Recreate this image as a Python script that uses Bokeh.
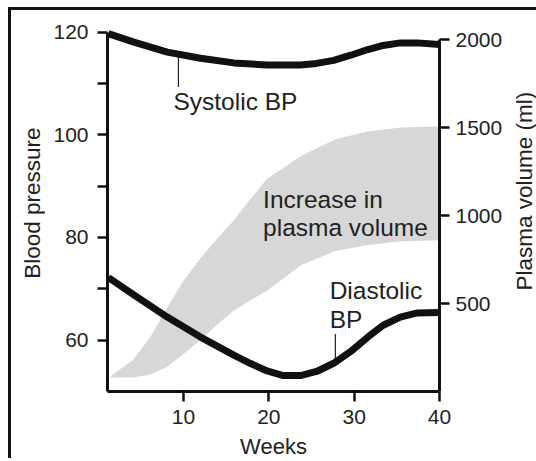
import math
from bokeh.plotting import figure
from bokeh.layouts import row
from bokeh.models import Range1d, LinearAxis, FixedTicker, Label
from bokeh.core.properties import value
from bokeh.embed import file_html
from bokeh.resources import INLINE

# ---- data ----
weeks_sys = [1.2, 4.1, 8.1, 12.0, 15.9, 19.8, 23.7, 25.6, 27.6, 29.6, 31.6, 33.4, 35.4, 37.4, 40.0]
systolic = [119.7, 118.1, 116.1, 114.9, 114.0, 113.6, 113.6, 113.9, 114.5, 115.5, 116.6, 117.4, 117.9, 117.9, 117.6]

weeks_dia = [1.2, 4.1, 8.1, 12.0, 15.9, 17.8, 19.8, 21.7, 23.7, 25.6, 27.6, 29.6, 31.6, 33.4, 35.4, 37.4, 40.0]
diastolic = [72.2, 68.9, 64.5, 60.6, 57.1, 55.5, 54.0, 53.1, 53.1, 53.9, 55.5, 57.8, 60.6, 62.9, 64.5, 65.3, 65.4]

weeks_band = [1.5, 4.1, 6.1, 8.1, 10.0, 12.0, 14.0, 15.9, 17.8, 19.8, 23.8, 27.8, 31.7, 35.5, 40.0]
plasma_upper = [88, 180, 309, 478, 630, 760, 872, 973, 1092, 1210, 1339, 1435, 1480, 1502, 1508]
plasma_lower = [78, 79, 96, 141, 214, 293, 383, 461, 518, 574, 720, 799, 833, 855, 861]

bp_ticks = [60, 70, 80, 90, 100, 110, 120]
bp_labels = {60: "60", 70: "", 80: "80", 90: "", 100: "100", 110: "", 120: "120"}
plasma_ticks = [500, 1000, 1500, 2000]
week_ticks = [10, 20, 30, 40]

FONT = "Liberation Sans"
INK = "#111111"
TXT = "#222222"
FRAME = "3px solid #111"
H = 451

# ---- main chart ----
p = figure(width=460, height=H,
           x_range=Range1d(1.1, 40), y_range=Range1d(50, 120.7),
           output_backend="svg", toolbar_location=None,
           min_border_left=62, min_border_right=65,
           min_border_top=18, min_border_bottom=66)
p.extra_y_ranges = {"plasma": Range1d(0, 2065)}
p.xgrid.visible = False
p.ygrid.visible = False
p.outline_line_color = None
p.background_fill_color = "white"
p.border_fill_color = "white"
p.styles = {"border-top": FRAME, "margin-top": "7px"}

# band: increase in plasma volume
p.varea(x=weeks_band, y1=plasma_lower, y2=plasma_upper, y_range_name="plasma",
        fill_color="#d7d7d7")

# leader lines
p.segment(x0=[9.41], y0=[115.2], x1=[9.41], y1=[109.3], line_color=TXT, line_width=1.2)
p.segment(x0=[27.8], y0=[61.2], x1=[27.8], y1=[56.0], line_color=TXT, line_width=1.2)

# curves
p.line(weeks_sys, systolic, line_color=INK, line_width=7, line_join="round", line_cap="butt")
p.line(weeks_dia, diastolic, line_color=INK, line_width=7, line_join="round", line_cap="butt")

def style_axis(ax, tick_size="21px"):
    ax.axis_line_width = 3
    ax.axis_line_color = INK
    ax.major_tick_line_width = 2.5
    ax.major_tick_line_color = INK
    ax.major_tick_out = 10
    ax.major_tick_in = 0
    ax.minor_tick_line_color = None
    ax.major_label_text_font = FONT
    ax.major_label_text_font_size = tick_size
    ax.major_label_text_color = TXT
    ax.axis_label_text_font = FONT
    ax.axis_label_text_font_size = "22px"
    ax.axis_label_text_font_style = "normal"
    ax.axis_label_text_color = TXT

xax = p.xaxis[0]
style_axis(xax)
xax.axis_label = "Weeks"
xax.ticker = FixedTicker(ticks=week_ticks)
xax.major_label_standoff = 8
xax.axis_label_standoff = 7

yax = p.yaxis[0]
style_axis(yax)
yax.ticker = FixedTicker(ticks=bp_ticks)
yax.major_label_overrides = bp_labels
yax.bounds = (50, 120)
yax.major_label_standoff = 9

rax = LinearAxis(y_range_name="plasma")
style_axis(rax)
rax.ticker = FixedTicker(ticks=plasma_ticks)
rax.bounds = (0, 2000)
rax.major_label_standoff = 6
p.add_layout(rax, "right")

def note(x, y, text):
    p.add_layout(Label(x=x, y=y, text=text, text_font=FONT, text_font_size="24.5px",
                       text_color=TXT, text_baseline="alphabetic", text_align="left"))

note(8.83, 106.4, "Systolic BP")
note(19.33, 87.4, "Increase in")
note(19.33, 82.0, "plasma volume")
note(27.13, 69.7, "Diastolic")
note(27.13, 64.1, "BP")

# ---- side strips holding the vertical axis titles ----
def title_strip(width, text, tx, ty, styles):
    s = figure(width=width, height=H, x_range=Range1d(0, width), y_range=Range1d(0, H),
               output_backend="svg", toolbar_location=None, title=None,
               x_axis_type=None, y_axis_type=None,
               min_border_left=0, min_border_right=0, min_border_top=0, min_border_bottom=0)
    s.xgrid.visible = False
    s.ygrid.visible = False
    s.outline_line_color = None
    s.background_fill_color = "white"
    s.border_fill_color = "white"
    s.styles = styles
    s.text(x=[tx], y=[ty], text=[text], angle=math.pi / 2,
           text_font=value(FONT), text_font_size="22.5px", text_color=TXT,
           text_align="center", text_baseline="middle")
    return s

left_strip = title_strip(37, "Blood pressure", 21, 234,
                         {"border-left": FRAME, "border-top": FRAME,
                          "margin-left": "8px", "margin-top": "7px"})
right_strip = title_strip(31, "Plasma volume (ml)", 18.5, 249,
                          {"border-top": FRAME, "margin-top": "7px"})

layout = row(left_strip, p, right_strip)

open("out.html", "w").write(file_html(layout, INLINE))
